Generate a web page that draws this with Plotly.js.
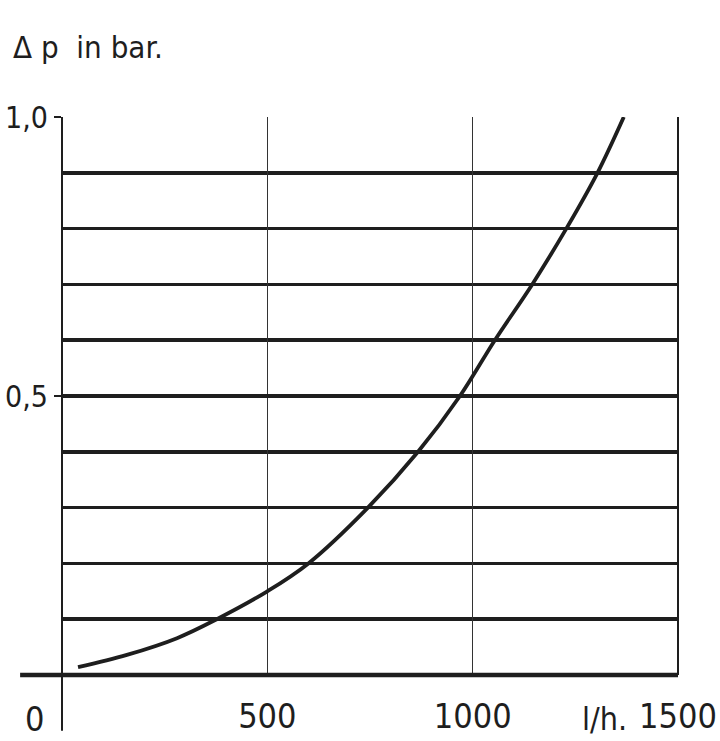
<!DOCTYPE html>
<html>
<head>
<meta charset="utf-8">
<script src="https://cdn.plot.ly/plotly-3.0.1.min.js"></script>
<style>
html,body{margin:0;padding:0;background:#fff;}
#chart{width:720px;height:741px;}
#chart svg text{font-stretch:condensed;}
</style>
</head>
<body>
<div id="chart"></div>
<script>
// Flow rate (l/h) and pressure drop (bar)
const flow = [39, 158, 280, 377, 500, 600, 745, 867, 969, 1054, 1145, 1228, 1304, 1368];
const dp   = [0.014, 0.036, 0.066, 0.1, 0.15, 0.2, 0.3, 0.4, 0.5, 0.6, 0.7, 0.8, 0.9, 1.0];
const xTickVals = [500, 1000, 1500];
const xTickText = ["500", "1000", "1500"];
const yTickVals = [0.5, 1.0];
const yTickText = ["0,5", "1,0"];
const unitLabel = "l/h.";
const yTitle = "\u0394 p  in bar.";

const FONT = "DejaVu Sans Condensed, DejaVu Sans, sans-serif";
const INK = "#1e1e1e";

const trace = {
  x: flow, y: dp, type: "scatter", mode: "lines",
  line: {color: INK, width: 3.8, shape: "spline", smoothing: 1},
  hoverinfo: "skip"
};

const layout = {
  width: 720, height: 741,
  margin: {l: 62, r: 42, t: 117, b: 66},
  paper_bgcolor: "#ffffff", plot_bgcolor: "#ffffff",
  showlegend: false,
  xaxis: {
    range: [0, 1500], tickvals: xTickVals, ticktext: xTickText,
    showgrid: true, gridcolor: "#333", gridwidth: 1.5,
    zeroline: false, showline: false, ticks: "",
    ticklabelstandoff: 18, ticklabeloverflow: "allow",
    tickfont: {family: FONT, size: 34, color: INK}
  },
  yaxis: {
    range: [0, 1], tickvals: yTickVals, ticktext: yTickText,
    showgrid: true, gridcolor: INK, gridwidth: 3.5,
    zeroline: false, showline: false,
    ticks: "outside", ticklen: 7, tickwidth: 2, tickcolor: INK,
    ticklabeloverflow: "allow",
    tickfont: {family: FONT, size: 30, color: INK},
    minor: {dtick: 0.1, showgrid: true, gridcolor: INK, gridwidth: 3.5, ticks: ""}
  },
  shapes: [
    {type: "line", xref: "paper", yref: "paper", x0: -0.068, x1: 1.0, y0: 0, y1: 0, line: {color: INK, width: 4.5}},
    {type: "line", xref: "paper", yref: "paper", x0: 0, x1: 0, y0: -0.1, y1: 1.0, line: {color: INK, width: 2}},
    {type: "line", xref: "paper", yref: "paper", x0: 1, x1: 1, y0: 0, y1: 1.0, line: {color: INK, width: 2}}
  ],
  annotations: [
    {xref: "paper", yref: "paper", x: -0.083, y: 1.125, xanchor: "left", yanchor: "middle",
     text: yTitle, showarrow: false, font: {family: FONT, size: 31, color: INK}},
    {xref: "paper", yref: "paper", x: -0.045, y: -0.078, xanchor: "center", yanchor: "middle",
     text: "0", showarrow: false, font: {family: FONT, size: 34, color: INK}},
    {xref: "x", yref: "paper", x: 1322, y: -0.078, xanchor: "center", yanchor: "middle",
     text: unitLabel, showarrow: false, font: {family: FONT, size: 32, color: INK}}
  ]
};

Plotly.newPlot("chart", [trace], layout, {staticPlot: true, displayModeBar: false});
</script>
</body>
</html>
